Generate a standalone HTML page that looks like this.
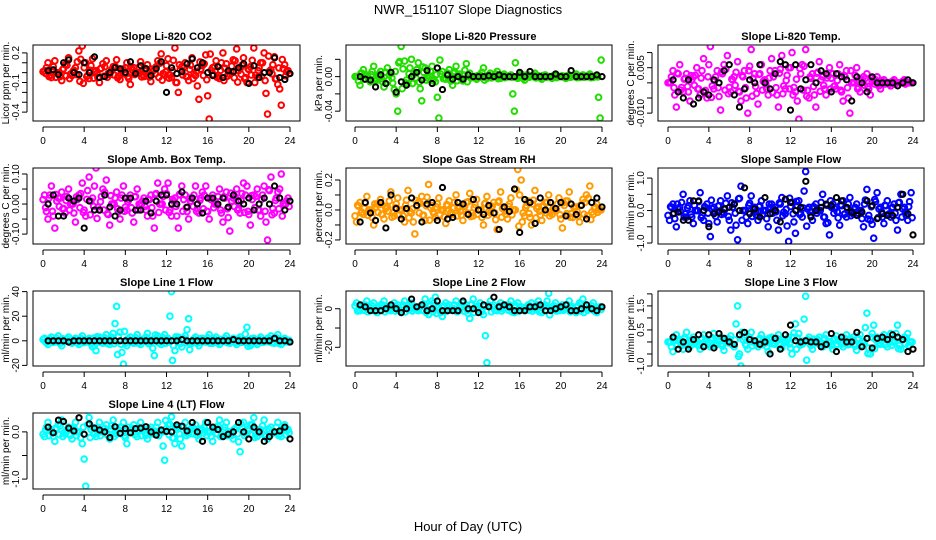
<!DOCTYPE html>
<html><head><meta charset="utf-8"><style>
html,body{margin:0;padding:0;background:#fff;}
svg{display:block;font-family:"Liberation Sans",sans-serif;}
</style></head><body>
<svg id="c" width="936" height="540" viewBox="0 0 936 540">
<defs id="defs"></defs>
<text x="468" y="14" text-anchor="middle" font-size="13">NWR_151107  Slope Diagnostics</text>
<text x="468" y="531" text-anchor="middle" font-size="13">Hour of Day (UTC)</text>
</svg>
<script>
const xTicks = [0,4,8,12,16,20,24];
const co2Col = [0.02,0.1,-0.05,0.12,0.0,-0.08,0.08,0.15,-0.03,0.05,0.22,0.27,0.1,-0.06,0.14,0.02,-0.1,0.09,0.12,-0.02,0.06,0.13,-0.07,0.03,0.1,-0.12,0.05,0.0,0.11,-0.04,0.08,-0.09,0.03,0.12,0.19,-0.02,0.14,-0.05,0.25,-0.2,0.06,0.1,-0.08,0.15,-0.03,-0.27,0.07,0.18,-0.47,0.05,0.12,-0.06,0.2,0.09,-0.02,0.13,0.24,0.04,0.15,-0.1,0.06,0.25,-0.05,0.1,0.2,-0.42,0.03,0.16,-0.12,-0.33,0.08,0.02];
const co2Blk = [0.02,0.03,-0.02,0.1,0.13,0.0,-0.02,0.1,0.0,0.16,-0.05,-0.04,0.0,0.05,0.04,0.0,0.11,-0.01,0.07,0.04,-0.03,0.04,0.11,-0.2,0.05,-0.01,0.01,0.09,0.14,0.05,0.1,0.0,-0.03,0.06,-0.05,0.02,0.01,0.05,0.09,-0.11,0.07,-0.05,0.0,0.0,0.15,-0.05,-0.07,-0.01];
const presCol = [0.0,-0.01,0.008,0.002,-0.006,0.012,-0.004,0.006,-0.012,0.01,0.004,-0.015,-0.04,0.035,0.018,-0.008,0.02,0.004,0.016,-0.028,0.01,-0.002,0.012,-0.006,-0.048,0.006,-0.003,0.008,-0.01,0.012,0.003,-0.005,0.015,0.004,0.0,-0.003,0.002,0.01,-0.002,0.004,0.0,0.006,-0.002,0.003,0.0,0.002,-0.04,-0.002,0.003,-0.004,0.002,0.0,0.004,0.001,-0.003,0.002,0.0,-0.002,0.003,0.0,0.001,-0.002,0.002,0.0,0.003,-0.001,0.002,0.0,0.003,-0.001,0.001,-0.048];
const presBlk = [0.0,-0.003,-0.004,-0.012,0.002,-0.008,0.005,-0.018,-0.006,-0.01,0.0,0.005,-0.004,0.007,-0.008,0.01,-0.015,0.002,-0.003,0.0,-0.003,0.002,0.0,0.0,0.0,0.001,0.0,0.002,0.0,0.0,0.0,0.005,0.0,0.006,0.0,0.0,0.0,0.0,0.003,0.0,0.0,0.007,0.0,0.0,0.0,0.0,0.002,0.0];
const tempCol = [0.0,0.004,-0.008,0.006,-0.003,0.003,-0.006,0.002,0.005,-0.004,0.008,-0.005,0.012,-0.002,0.004,-0.009,0.006,0.009,-0.003,0.002,0.007,-0.006,0.004,-0.01,0.011,0.003,-0.007,0.006,0.001,-0.004,0.008,0.004,-0.008,0.009,-0.002,0.005,0.01,-0.003,-0.012,0.006,0.011,-0.005,0.003,-0.008,0.007,0.002,-0.004,0.005,0.003,-0.002,0.006,-0.006,0.004,-0.01,0.0,0.005,-0.003,0.002,0.003,-0.004,0.001,0.002,-0.002,0.001,0.0,-0.001,0.001,0.0,0.0,0.001,0.0,0.0];
const tempBlk = [0.001,-0.003,-0.005,0.001,-0.007,-0.005,-0.003,-0.004,0.001,0.0,0.004,0.006,-0.004,-0.008,-0.002,0.001,0.0,0.006,0.0,-0.002,0.003,0.007,0.006,-0.009,0.006,-0.002,0.001,0.006,0.0,0.004,0.003,-0.003,0.003,0.002,0.001,-0.006,0.002,0.0,-0.003,0.002,0.0,0.0,0.0,0.0,-0.001,0.0,0.001,0.0];
const ambCol = [0.03,-0.05,0.06,-0.08,0.02,0.04,-0.03,0.05,0.0,-0.06,0.03,0.07,-0.04,0.09,0.02,0.12,-0.02,0.05,0.08,-0.07,0.0,0.04,-0.05,0.06,-0.02,0.03,-0.06,0.05,0.0,0.02,-0.04,0.03,-0.08,0.07,0.0,0.05,0.07,-0.04,0.02,-0.08,0.06,0.03,-0.05,0.02,0.06,-0.03,0.04,0.06,-0.05,0.03,0.0,0.05,-0.06,0.04,-0.09,0.02,0.05,-0.03,0.07,0.06,-0.07,0.03,0.05,-0.04,0.06,-0.12,0.09,-0.03,0.04,0.1,0.0,0.02];
const ambBlk = [0.0,0.03,-0.04,-0.04,0.02,0.01,0.02,-0.08,0.01,-0.02,-0.02,0.03,-0.01,-0.04,-0.02,0.02,0.02,-0.02,-0.02,0.01,-0.03,0.01,0.03,0.03,0.0,0.0,0.04,-0.01,0.02,0.0,-0.03,0.02,0.02,0.0,0.02,-0.01,0.03,0.01,0.0,0.02,-0.02,0.0,0.02,0.0,0.06,0.02,-0.02,0.01];
const rhCol = [-0.08,0.05,-0.03,0.09,0.0,-0.1,0.04,0.07,-0.06,0.02,0.12,-0.04,0.08,0.0,-0.08,0.13,-0.02,-0.16,0.05,0.09,-0.07,0.17,0.03,-0.05,0.08,0.0,-0.09,0.06,-0.03,0.1,0.02,-0.07,0.05,0.11,-0.04,0.07,0.0,-0.1,0.09,-0.02,0.05,-0.13,0.12,0.02,-0.06,0.08,0.0,0.27,0.2,-0.04,0.06,-0.1,0.13,0.02,-0.07,0.05,0.1,-0.03,0.0,0.08,-0.12,0.06,0.12,-0.05,0.02,-0.08,0.07,0.1,0.16,-0.03,0.04,0.0];
const rhBlk = [-0.08,0.05,-0.02,-0.07,0.05,-0.12,0.1,0.01,-0.06,0.01,0.08,0.03,-0.08,0.04,0.05,-0.07,0.15,-0.06,-0.05,0.05,0.04,-0.03,0.07,0.0,-0.03,0.03,-0.02,-0.13,0.02,-0.01,0.14,-0.15,0.07,0.05,-0.09,0.08,0.0,0.05,0.01,0.05,-0.04,0.04,-0.03,0.03,-0.06,0.05,0.08,0.02];
const sampCol = [-0.3,0.2,-0.5,0.1,0.5,-0.2,0.3,-0.4,0.0,0.55,-0.3,0.2,-0.8,0.1,-0.35,0.3,-0.1,0.45,-0.6,0.2,-0.9,0.75,0.0,-0.4,0.45,0.1,-0.3,0.3,0.0,-0.5,0.2,0.1,-0.6,0.4,-0.1,-0.95,0.25,-0.7,0.3,-0.2,1.2,0.1,-0.3,0.2,0.0,0.5,-0.4,-0.75,0.2,0.1,-0.45,0.3,-0.2,0.4,-0.1,0.2,0.0,-0.5,0.65,-0.3,-0.85,0.55,0.1,-0.4,0.3,-0.2,0.2,-0.6,0.5,0.1,-0.3,0.55];
const sampBlk = [-0.1,-0.05,-0.3,-0.3,0.3,0.3,0.0,-0.5,-0.1,-0.05,0.05,0.1,0.2,0.0,0.7,-0.1,0.05,-0.2,0.4,-0.1,0.0,-0.35,0.35,0.25,0.0,0.1,0.9,-0.2,0.0,0.1,0.2,0.15,0.4,0.3,0.1,-0.05,-0.15,-0.05,0.3,0.15,-0.25,-0.1,-0.15,-0.15,0.1,0.5,-0.1,-0.75];
const l1Col = [2,-3,3,-1,4,-4,1,3,-2,2,-3,4,-1,2,-5,-8,3,-2,5,-3,6,28,7,-19,-4,3,-2,5,-3,1,6,-2,-12,4,-3,5,2,40,-8,3,-5,4,18,-2,3,-4,2,-1,5,-2,3,-3,1,4,-2,2,-3,3,-1,11,-4,2,-3,3,-1,2,4,-2,5,-3,2,-1];
const l1Blk = [0,0,0,0,-1,0,0,0,0,0,0,0,0,0,0,0,0,0,0,0,0,0,0,0,0,0,1,0,0,0,0,0,0,0,0,0,1,0,0,0,0,0,0,0,2,0,0,-1];
const l2Col = [3,-1,2,4,0,3,-2,2,4,1,-1,3,2,-2,4,1,3,0,-1,2,5,-3,4,6,1,-4,3,2,0,4,-1,3,2,-5,5,1,3,-3,-28,4,2,-1,3,0,2,4,-2,3,1,-1,2,3,0,4,-2,2,8,1,3,-1,2,0,4,1,-2,3,5,2,0,3,-2,1];
const l2Blk = [2,1,-1,-1,-1,0,2,0,-2,0,5,1,2,-1,0,4,-1,-1,-1,-1,4,0,0,-2,2,1,6,1,2,1,-1,-1,-1,1,1,2,-1,-1,0,1,2,-1,-1,0,2,0,-1,1];
const l3Col = [0.0,-0.4,0.3,0.1,-0.3,0.4,-0.2,0.2,0.0,-0.3,0.3,0.1,-0.2,0.35,-0.1,0.2,-0.35,0.1,0.25,-0.2,1.5,-1.0,0.2,-0.3,0.4,0.0,-0.2,0.3,0.1,-0.4,0.2,-0.1,0.3,-0.25,0.05,0.2,-0.5,0.75,0.35,-0.1,1.9,0.2,-0.3,0.1,0.2,-0.2,0.3,0.0,-0.3,0.25,0.1,-0.2,0.3,-0.1,0.2,-0.35,0.3,0.0,1.2,-0.5,0.7,0.2,-0.1,0.3,-0.2,0.35,0.0,0.7,-0.3,0.2,0.35,0.0];
const l3Blk = [0.2,-0.3,0.0,-0.3,0.1,0.3,-0.2,0.3,-0.25,0.35,0.15,0.0,-0.1,0.3,0.4,0.1,0.05,-0.1,0.0,-0.5,0.15,-0.3,0.3,0.7,0.05,0.0,0.05,0.0,0.0,-0.2,-0.1,0.35,-0.4,0.2,0.0,0.0,0.4,-0.2,0.15,-0.25,0.15,0.2,0.1,0.3,0.2,0.1,-0.4,-0.3];
const l4Col = [-0.1,0.2,0.05,-0.2,0.15,0.25,-0.05,0.1,-0.15,0.2,0.0,-0.25,-1.15,0.3,0.1,-0.1,0.2,0.0,0.15,-0.15,0.25,-0.05,0.1,0.2,-0.25,0.0,0.15,-0.1,0.2,0.05,-0.15,0.1,-0.05,0.2,0.0,-0.6,0.15,0.32,-0.25,0.1,-0.3,0.2,-0.05,0.1,0.15,-0.15,0.05,0.2,0.0,-0.2,0.1,0.25,-0.1,0.2,0.0,-0.15,0.1,-0.42,0.2,-0.05,0.15,0.3,-0.1,0.05,0.25,-0.15,0.1,0.0,0.2,-0.1,0.15,0.05];
const l4Blk = [0.1,-0.02,0.25,0.22,0.08,0.02,0.3,-0.05,0.17,0.08,0.04,0.0,-0.12,0.11,-0.03,0.07,-0.02,0.07,0.08,0.11,0.0,-0.07,0.04,0.01,0.0,0.15,0.12,0.02,0.2,0.0,-0.2,0.2,0.1,0.05,-0.1,-0.05,0.0,0.2,0.0,-0.15,0.1,0.0,-0.2,-0.1,0.0,0.02,0.1,-0.15];
const co2Ticks = [0.2,0.1,0,-0.1,-0.2,-0.3,-0.4];
const co2Labels = ["0.2","","","-0.1","","","-0.4"];
const presTicks = [0.02,0,-0.02,-0.04];
const presLabels = ["","0.00","","-0.04"];
const tempTicks = [0.01,0.005,0,-0.005,-0.01];
const tempLabels = ["","0.005","","","-0.010"];
const ambTicks = [0.1,0.05,0,-0.05,-0.1];
const ambLabels = ["0.10","","0.00","","-0.10"];
const rhTicks = [0.2,0.1,0,-0.1,-0.2];
const rhLabels = ["0.2","","0.0","","-0.2"];
const sampTicks = [1,0.5,0,-0.5,-1];
const sampLabels = ["1.0","","0.0","","-1.0"];
const l1Ticks = [40,20,0,-20];
const l1Labels = ["40","20","0","-20"];
const l2Ticks = [0,-10,-20];
const l2Labels = ["0","","-20"];
const l3Ticks = [2,1.5,1,0.5,0,-0.5,-1];
const l3Labels = ["","1.5","","0.5","","","-1.0"];
const l4Ticks = [0,-0.5,-1];
const l4Labels = ["0.0","","-1.0"];

const NS="http://www.w3.org/2000/svg";
const svg=document.getElementById('c');
const defs=document.getElementById('defs');
function mk(tag,attrs,parent){const e=document.createElementNS(NS,tag);for(const k in attrs)e.setAttribute(k,attrs[k]);(parent||svg).appendChild(e);return e;}
const cols=[{l:33,r:300,x0:43,x24:290},{l:346,r:612,x0:355,x24:602},{l:658,r:924,x0:668,x24:913}];
const rows=[{t:45,b:121},{t:168,b:244},{t:291,b:366},{t:413,b:489}];
const panels=[
 {name:"co2",title:"Slope Li-820 CO2",yt:"Licor ppm per min.",c:0,r:0,ymin:-0.49,ymax:0.28,col:"#ff0000",dc:co2Col,db:co2Blk,tk:co2Ticks,tl:co2Labels},
 {name:"pressure",title:"Slope Li-820 Pressure",yt:"kPa per min.",c:1,r:0,ymin:-0.0514,ymax:0.0366,col:"#22dd00",dc:presCol,db:presBlk,tk:presTicks,tl:presLabels},
 {name:"temp",title:"Slope Li-820 Temp.",yt:"degrees C per min.",c:2,r:0,ymin:-0.0126,ymax:0.0125,col:"#ff00ff",dc:tempCol,db:tempBlk,tk:tempTicks,tl:tempLabels},
 {name:"amb-box-temp",title:"Slope Amb. Box Temp.",yt:"degrees C per min.",c:0,r:1,ymin:-0.133,ymax:0.12,col:"#ff00ff",dc:ambCol,db:ambBlk,tk:ambTicks,tl:ambLabels},
 {name:"gas-stream-rh",title:"Slope Gas Stream RH",yt:"percent per min.",c:1,r:1,ymin:-0.227,ymax:0.28,col:"#ff9900",dc:rhCol,db:rhBlk,tk:rhTicks,tl:rhLabels},
 {name:"sample-flow",title:"Slope Sample Flow",yt:"ml/min per min.",c:2,r:1,ymin:-1.03,ymax:1.31,col:"#0000ff",dc:sampCol,db:sampBlk,tk:sampTicks,tl:sampLabels},
 {name:"line1-flow",title:"Slope Line 1 Flow",yt:"ml/min per min.",c:0,r:2,ymin:-20.5,ymax:40.5,col:"#00ffff",dc:l1Col,db:l1Blk,tk:l1Ticks,tl:l1Labels},
 {name:"line2-flow",title:"Slope Line 2 Flow",yt:"ml/min per min.",c:1,r:2,ymin:-29.7,ymax:9.2,col:"#00ffff",dc:l2Col,db:l2Blk,tk:l2Ticks,tl:l2Labels},
 {name:"line3-flow",title:"Slope Line 3 Flow",yt:"ml/min per min.",c:2,r:2,ymin:-1.0,ymax:2.12,col:"#00ffff",dc:l3Col,db:l3Blk,tk:l3Ticks,tl:l3Labels},
 {name:"line4-flow",title:"Slope Line 4 (LT) Flow",yt:"ml/min per min.",c:0,r:3,ymin:-1.21,ymax:0.4,col:"#00ffff",dc:l4Col,db:l4Blk,tk:l4Ticks,tl:l4Labels}
];
panels.forEach((p,pi)=>{
 const C=cols[p.c],R=rows[p.r];
 const cp=mk('clipPath',{id:'clip'+pi},defs);
 mk('rect',{x:C.l,y:R.t,width:C.r-C.l,height:R.b-R.t},cp);
 const g=mk('g',{});
 
 
 const xs=h=>C.x0+(C.x24-C.x0)*h/24;
 const ys=v=>R.b-(v-p.ymin)/(p.ymax-p.ymin)*(R.b-R.t);
 const t=mk('text',{x:(C.l+C.r)/2,y:R.t-5,'text-anchor':'middle','font-size':11,'font-weight':'bold'},g);
 t.textContent=p.title;
 
 
 const pts=mk('g',{fill:'none','stroke-width':2,'clip-path':'url(#clip'+pi+')'},g);
 
 
 p.dc.forEach((v,i)=>{
  const e=mk('circle',{cx:xs(i/3+0.15),cy:ys(v),r:2.8,stroke:p.col},pts);
  
  
  const e2=mk('circle',{cx:xs(i/3),cy:ys(v*0.5),r:2.8,stroke:p.col},pts);
  
  
  const e3=mk('circle',{cx:xs(i/3+0.25),cy:ys(-v*0.4),r:2.8,stroke:p.col},pts);
  
  
 });
 p.db.forEach((v,i)=>{
  const e=mk('circle',{cx:xs(i/2+0.5),cy:ys(v),r:2.6,stroke:'#000'},pts);
  
  
 });
 const box=mk('rect',{x:C.l,y:R.t,width:C.r-C.l,height:R.b-R.t,fill:'none',stroke:'#000','stroke-width':1},g);
 
 
 const xa=mk('g',{},g);
 
 
 mk('line',{x1:xs(0),x2:xs(24),y1:R.b+6,y2:R.b+6,stroke:'#000'},xa);
 xTicks.forEach(h=>{
  mk('line',{x1:xs(h),x2:xs(h),y1:R.b+6,y2:R.b+11,stroke:'#000'},xa);
  const l=mk('text',{x:xs(h),y:R.b+23,'text-anchor':'middle','font-size':10},xa);
  l.textContent=h;
 });
 const ya=mk('g',{},g);
 
 
 const ty=p.tk.map(ys).filter(y=>y>=R.t-1&&y<=R.b+1);
 mk('line',{x1:C.l-6,x2:C.l-6,y1:Math.min(...ty),y2:Math.max(...ty),stroke:'#000'},ya);
 p.tk.forEach((v,i)=>{
  const y=ys(v); if(y<R.t-1||y>R.b+1) return;
  mk('line',{x1:C.l-11,x2:C.l-6,y1:y,y2:y,stroke:'#000'},ya);
  if(p.tl[i]){const l=mk('text',{x:C.l-14,y:y,'text-anchor':'middle','font-size':10,transform:`rotate(-90 ${C.l-14} ${y})`},ya);l.textContent=p.tl[i];}
 });
 const yt=mk('text',{x:C.l-24,y:(R.t+R.b)/2,'text-anchor':'middle','font-size':10,transform:`rotate(-90 ${C.l-24} ${(R.t+R.b)/2})`},g);
 yt.textContent=p.yt;
 
 
});
</script>
</body></html>
